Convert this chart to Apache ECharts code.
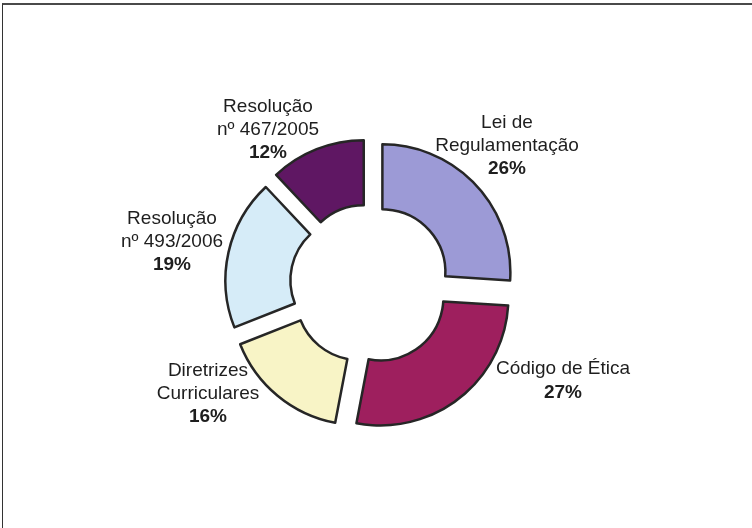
<!DOCTYPE html>
<html>
<head>
<meta charset="utf-8">
<script src="https://cdn.jsdelivr.net/npm/echarts@6/dist/echarts.min.js"></script>
<style>
html,body{margin:0;padding:0;background:#fff;}
#wrap{position:relative;width:752px;height:528px;}
#main{position:absolute;left:0;top:0;width:752px;height:528px;}
#frame{position:absolute;left:2px;top:3px;right:0;bottom:0;border-top:2px solid #4a4a4a;border-left:1px solid #333;pointer-events:none;}
</style>
</head>
<body>
<div id="wrap"><div id="main"></div><div id="frame"></div></div>
<script>
var categories = ['Lei de\nRegulamentação', 'Código de Ética', 'Diretrizes\nCurriculares', 'Resolução\nnº 493/2006', 'Resolução\nnº 467/2005'];
var values = [26, 27, 16, 19, 12];

var colors = ['#9c9ad6', '#9e1f5e', '#f8f4c6', '#d6ecf8', '#5f1763'];
var labelPos = [[507, 146], [563, 381], [208, 394], [172, 242], [268, 130]];

var rich = {
  n: {fontFamily: 'Liberation Sans', fontSize: 19, fill: '#1e1e1e', lineHeight: 23, align: 'center'},
  p: {fontFamily: 'Liberation Sans', fontSize: 19, fontWeight: 'bold', fill: '#1e1e1e', lineHeight: 24, align: 'center'}
};

var labels = categories.map(function (c, i) {
  var lines = c.split('\n').map(function (l) { return '{n|' + l + '}'; });
  lines.push('{p|' + values[i] + '%}');
  return {
    type: 'text',
    x: labelPos[i][0],
    y: labelPos[i][1],
    silent: true,
    style: {
      text: lines.join('\n'),
      align: 'center',
      verticalAlign: 'middle',
      rich: rich
    }
  };
});

var chart = echarts.init(document.getElementById('main'), null, {renderer: 'canvas'});
chart.setOption({
  backgroundColor: '#ffffff',
  animation: false,
  graphic: labels,
  series: [{
    type: 'pie',
    center: [370, 284],
    radius: [63, 128],
    startAngle: 90,
    clockwise: true,
    selectedMode: 'multiple',
    selectedOffset: 17,
    avoidLabelOverlap: false,
    itemStyle: {borderColor: '#262626', borderWidth: 2.5},
    labelLine: {show: false},
    label: {show: false},
    emphasis: {disabled: true},
    data: categories.map(function (c, i) {
      return {name: c, value: values[i], selected: true, itemStyle: {color: colors[i]}};
    })
  }]
});
</script>
</body>
</html>
